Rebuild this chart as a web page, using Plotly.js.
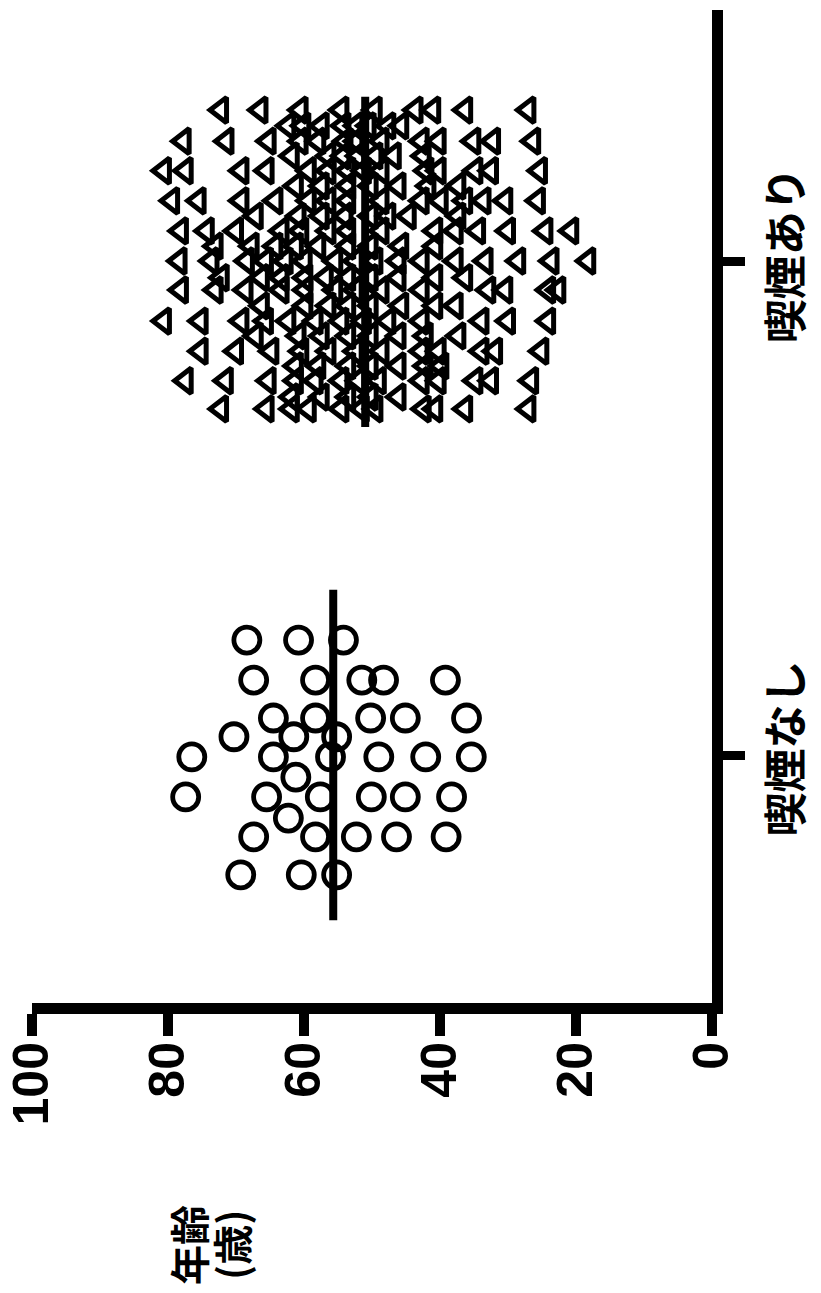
<!DOCTYPE html>
<html>
<head>
<meta charset="utf-8">
<script src="https://cdn.plot.ly/plotly-3.0.1.min.js"></script>
<style>
html, body { margin: 0; padding: 0; background: #ffffff; }
#chart { width: 821px; height: 1293px; }
</style>
</head>
<body>
<div id="chart"></div>
<script>
// ---- data ----
const categories = ['喫煙なし', '喫煙あり'];
const ageTicks = [0, 20, 40, 60, 80, 100];
const meanAge = [55.7, 51.0];
const axisTitleLines = ['年齢', '(歳)'];

// non-smokers: spread offset of each row and the ages in that row
const nonSmokerRowOffset = [0.233, 0.152, 0.075, 0.037, -0.004, -0.045, -0.085, -0.128, -0.166, -0.243];
const nonSmokerRowAges = [
  [68.4, 60.8, 54.2],
  [67.4, 58.3, 51.5, 48.3, 39.2],
  [64.5, 58.3, 50.2, 45.1, 36.1],
  [70.3, 61.5, 55.2],
  [76.5, 64.5, 56.1, 49.0, 42.1, 35.4],
  [61.2],
  [77.4, 65.5, 57.6, 50.1, 45.1, 38.3],
  [62.3],
  [67.4, 58.3, 52.3, 46.4, 39.1],
  [69.3, 60.4, 55.2]
];

// smokers
const smokerRowOffset = [0.308, 0.276, 0.245, 0.215, 0.185, 0.154, 0.124, 0.093, 0.063, 0.032, 0.002,
  -0.032, -0.057, -0.089, -0.120, -0.150, -0.181, -0.211, -0.241, -0.274, -0.298];
const smokerRowAges = [
  [72.2, 66.4, 60.5, 54.5, 49.6, 43.6, 41.0, 36.3, 27.0],
  [62.3, 60.1, 57.4, 54.2, 52.3, 50.5, 47.6, 45.7],
  [77.7, 71.4, 65.2, 60.5, 57.9, 53.9, 52.3, 48.6, 42.7, 40.2, 35.1, 32.2, 26.3],
  [61.8, 56.4, 54.2, 52.0, 49.5, 46.8, 42.4],
  [80.6, 77.4, 69.2, 65.5, 59.3, 56.4, 53.5, 51.2, 48.6, 42.0, 40.2, 34.8, 32.5, 25.3],
  [61.2, 57.4, 53.5, 50.2, 46.1, 41.7, 37.3],
  [79.4, 75.5, 69.2, 64.2, 59.3, 56.4, 53.5, 48.6, 42.7, 39.9, 36.3, 33.6, 30.4, 25.6],
  [67.1, 60.8, 57.4, 53.9, 50.2, 47.6, 44.6, 37.3],
  [78.1, 74.3, 70.0, 63.3, 60.4, 56.4, 53.5, 48.6, 40.7, 37.7, 34.4, 30.0, 24.5, 20.7],
  [73.0, 67.7, 64.2, 61.2, 57.9, 53.5, 50.2, 45.7, 40.7],
  [78.3, 73.6, 68.4, 65.6, 62.7, 59.9, 55.4, 52.4, 49.5, 46.1, 42.7, 37.7, 33.3, 28.5, 23.6, 18.2],
  [72.1, 66.2, 63.3, 59.8, 56.8, 53.5, 50.2, 46.1, 40.7, 36.3],
  [78.1, 73.0, 68.6, 63.3, 59.8, 55.4, 52.4, 48.6, 42.7, 32.9, 30.4, 24.1, 22.6],
  [66.2, 59.8, 56.4, 53.5, 50.2, 45.7, 40.7, 37.7],
  [80.6, 75.2, 69.2, 65.6, 62.3, 58.3, 54.5, 51.2, 47.6, 42.7, 33.9, 30.0, 24.1],
  [67.1, 60.8, 57.4, 53.5, 50.2, 46.1, 42.1, 37.3],
  [75.2, 70.0, 64.8, 60.4, 56.4, 52.4, 48.6, 42.7, 40.2, 33.9, 31.9, 25.1],
  [61.2, 57.9, 53.5, 50.2, 46.1, 42.1, 39.8],
  [77.4, 71.5, 65.2, 61.2, 58.3, 54.5, 52.0, 49.0, 42.7, 40.2, 34.8, 32.5, 26.6],
  [61.8, 57.4, 53.5, 50.2, 46.1],
  [72.2, 65.5, 61.8, 59.3, 54.5, 51.5, 49.5, 42.4, 40.7, 36.3, 27.0]
];

// ---- build traces ----
function flatten(rowAges, rowOffset, catIndex) {
  const x = [], y = [];
  rowAges.forEach((ages, i) => {
    ages.forEach(a => { x.push(a); y.push(catIndex + rowOffset[i]); });
  });
  return { x, y };
}

const ns = flatten(nonSmokerRowAges, nonSmokerRowOffset, 0);
const sm = flatten(smokerRowAges, smokerRowOffset, 1);
const meanHalf = 0.335;

const traces = [
  {
    type: 'scatter', mode: 'markers', x: ns.x, y: ns.y, hoverinfo: 'skip',
    marker: { symbol: 'circle-open', size: 26, color: '#000000', line: { width: 4.8, color: '#000000' } }
  },
  {
    type: 'scatter', mode: 'markers', x: sm.x, y: sm.y, hoverinfo: 'skip',
    marker: { symbol: 'triangle-left-open', size: 22, color: '#000000', line: { width: 5, color: '#000000' } }
  }
];
meanAge.forEach((m, i) => {
  traces.push({
    type: 'scatter', mode: 'lines', x: [m, m], y: [i - meanHalf, i + meanHalf],
    line: { color: '#000000', width: 8 }, hoverinfo: 'skip'
  });
});

const titleFont = { family: 'Noto Sans CJK JP, sans-serif', size: 40, color: '#000000', weight: 'bold' };

const layout = {
  width: 821, height: 1293,
  margin: { l: 32, r: 109, t: 10, b: 290 },
  paper_bgcolor: '#ffffff', plot_bgcolor: '#ffffff',
  showlegend: false,
  xaxis: {
    range: [100, 0], tickvals: ageTicks, ticktext: ageTicks.map(String),
    ticks: 'outside', ticklen: 22, tickwidth: 10, tickcolor: '#000000',
    showline: true, linewidth: 11, linecolor: '#000000',
    showgrid: false, zeroline: false, tickangle: -90, ticklabelstandoff: -14,
    tickfont: { family: 'Liberation Sans, Arial, sans-serif', size: 50, color: '#000000', weight: 'bold' }
  },
  yaxis: {
    range: [-0.503, 1.511], side: 'right', tickvals: [0, 1], ticktext: categories,
    ticks: 'outside', ticklen: 22, tickwidth: 9, tickcolor: '#000000',
    showline: true, linewidth: 11, linecolor: '#000000',
    showgrid: false, zeroline: false, tickangle: -90, ticklabelstandoff: 4,
    tickfont: { family: 'Noto Sans CJK JP, sans-serif', size: 44, color: '#000000', weight: 'bold' }
  },
  annotations: [
    {
      text: axisTitleLines[0], xref: 'paper', yref: 'paper', x: 0.2294, y: -0.2437,
      xanchor: 'center', yanchor: 'middle', showarrow: false, textangle: -90, font: titleFont
    },
    {
      text: axisTitleLines[1], xref: 'paper', yref: 'paper', x: 0.2926, y: -0.2437,
      xanchor: 'center', yanchor: 'middle', showarrow: false, textangle: -90, font: titleFont
    }
  ]
};

Plotly.newPlot('chart', traces, layout, { displayModeBar: false, staticPlot: true });
</script>
</body>
</html>
